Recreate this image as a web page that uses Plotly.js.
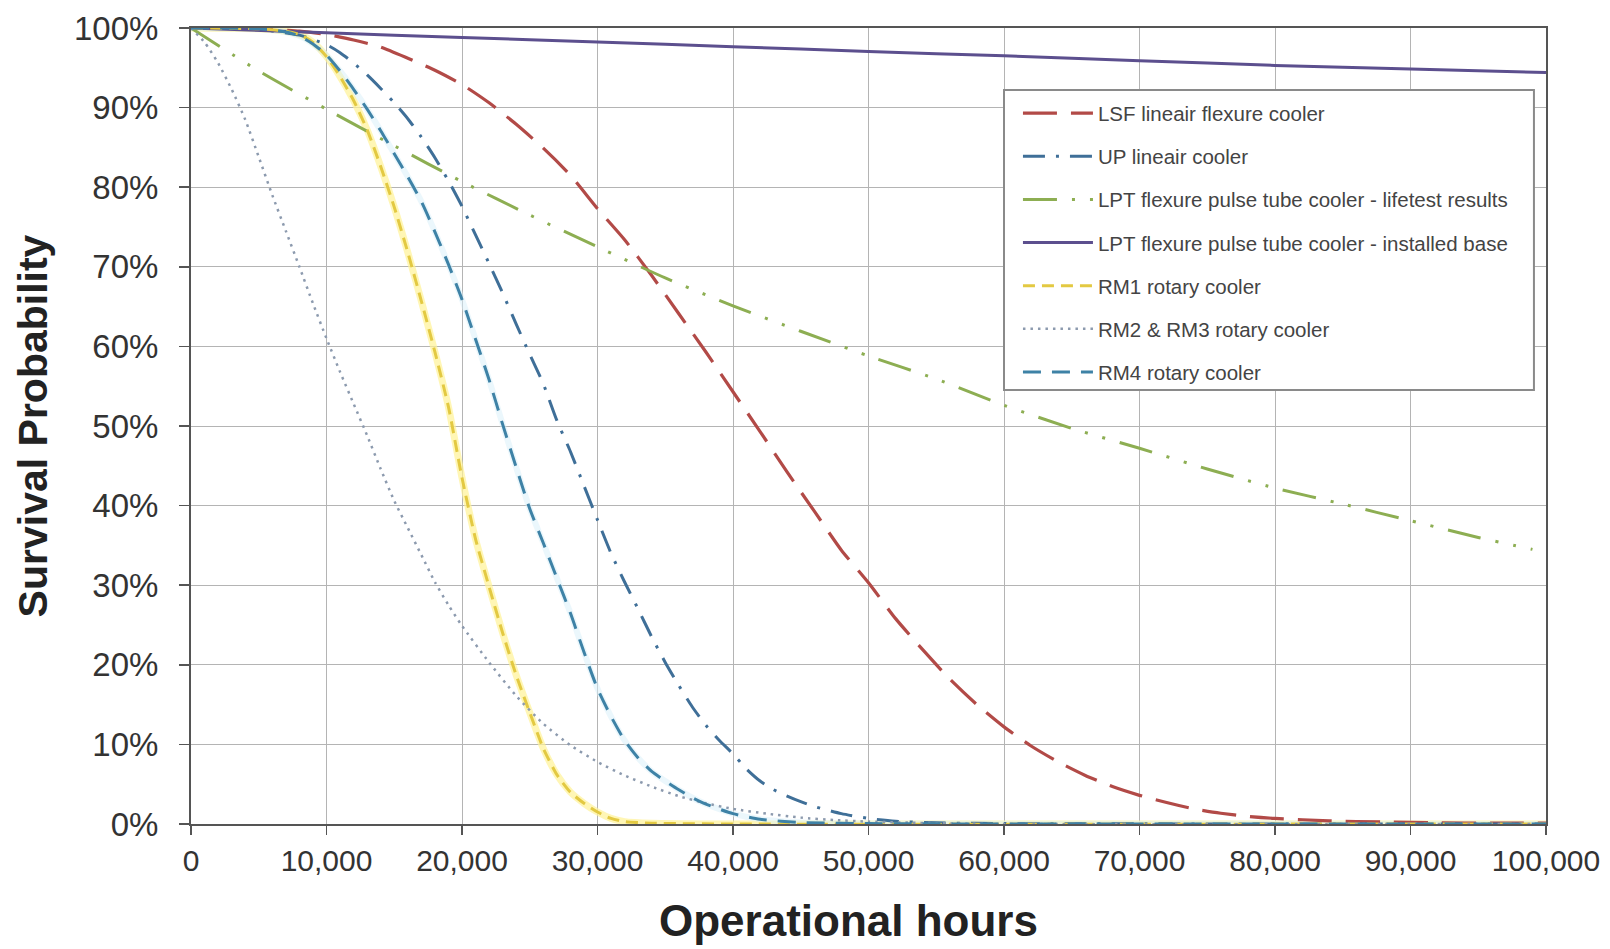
<!DOCTYPE html>
<html>
<head>
<meta charset="utf-8">
<script src="https://cdn.plot.ly/plotly-3.0.1.min.js"></script>
<style>
  html, body { margin: 0; padding: 0; background: #ffffff; }
  #chart { width: 1610px; height: 949px; }
</style>
</head>
<body>
<div id="chart"></div>
<script>
// ---------- data ----------
const seriesNames = [
  "LSF lineair flexure cooler",
  "UP lineair cooler",
  "LPT flexure pulse tube cooler - lifetest results",
  "LPT flexure pulse tube cooler - installed base",
  "RM1 rotary cooler",
  "RM2 & RM3 rotary cooler",
  "RM4 rotary cooler"
];

const xAxisTitle = "Operational hours";
const yAxisTitle = "Survival Probability";

const xTickVals = [0, 10000, 20000, 30000, 40000, 50000, 60000, 70000, 80000, 90000, 100000];
const yTickVals = [0, 10, 20, 30, 40, 50, 60, 70, 80, 90, 100];
const yTickText = ["0%", "10%", "20%", "30%", "40%", "50%", "60%", "70%", "80%", "90%", "100%"];

const lsfHours = [0,5000,8000,10000,12000,14000,16000,18000,20000,22000,24000,26000,28000,30000,32000,34000,36000,38000,40000,42000,44000,46000,48000,50000,52000,54000,56000,58000,60000,62000,64000,66000,68000,70000,72000,74000,76000,78000,80000,84000,88000,92000,96000,100000];
const lsfSurv  = [100,99.9,99.6,99.2,98.5,97.6,96.2,94.7,92.9,90.6,87.9,84.9,81.5,77.3,73.4,68.9,64.1,59.3,54.3,49.3,44.2,39.3,34.4,30.3,25.8,21.9,18.2,15.0,12.2,9.8,7.8,6.1,4.7,3.6,2.7,1.9,1.35,0.95,0.7,0.4,0.25,0.15,0.1,0.1];

const upHours = [0,5000,8000,10000,11000,12000,13000,14000,15000,16000,17000,18000,19000,20000,21000,22000,23000,24000,25000,26000,27000,28000,29000,30000,31000,32000,33000,34000,35000,36000,37000,38000,39000,40000,41000,42000,43000,44000,45000,46000,48000,50000,52000,55000,60000,100000];
const upSurv  = [100,99.8,99.1,97.9,96.9,95.6,94.1,92.4,90.6,88.6,86.3,83.7,80.8,77.6,74.0,70.4,66.7,62.8,59.0,55.3,50.7,46.8,42.5,38.2,34.0,30.4,27.0,23.5,20.3,17.4,14.7,12.4,10.5,8.8,6.9,5.4,4.3,3.5,2.8,2.2,1.3,0.7,0.35,0.15,0.05,0];

const lptTestHours = [0,5000,10000,15000,20000,25000,30000,35000,40000,45000,50000,55000,60000,65000,70000,75000,80000,85000,90000,95000,99000];
const lptTestSurv  = [100,94.6,89.8,85.2,80.7,76.5,72.5,68.6,65.1,61.9,58.8,55.9,52.6,49.7,47.2,44.6,42.2,40.2,38.1,36.0,34.5];

const lptBaseHours = [0,10000,20000,30000,40000,50000,60000,70000,80000,90000,100000];
const lptBaseSurv  = [100,99.4,98.8,98.25,97.65,97.05,96.5,95.9,95.3,94.85,94.4];

const rm1Hours = [0,5000,7000,8000,9000,10000,11000,12000,13000,14000,15000,16000,17000,18000,19000,20000,21000,22000,23000,24000,25000,26000,27000,28000,29000,30000,31000,32000,34000,40000,100000];
const rm1Surv  = [100,99.9,99.6,99.2,98.2,96.4,93.9,90.9,87.2,82.6,77.5,71.8,65.7,59.3,52.4,43.5,35.8,29.8,24.0,18.7,14.0,9.5,6.2,4.0,2.6,1.5,0.7,0.3,0.1,0,0];

const rm23Hours = [0,1000,2000,3000,4000,5000,6000,7000,8000,9000,10000,11000,12000,13000,14000,15000,16000,17000,18000,19000,20000,22000,24000,26000,28000,30000,32000,34000,36000,38000,40000,42500,45000,47500,50000,55000,60000,100000];
const rm23Surv  = [100,98.2,95.6,92.3,88.5,83.8,79.0,74.5,70.0,65.4,61.0,56.8,52.8,48.8,44.6,40.6,37.2,33.8,30.4,27.5,24.9,20.3,16.1,12.6,9.9,7.8,6.1,4.7,3.5,2.6,1.9,1.3,0.8,0.5,0.3,0.1,0,0];

const rm4Hours = [0,5000,7000,8000,9000,10000,11000,12000,13000,14000,15000,16000,17000,18000,19000,20000,21000,22000,23000,24000,25000,26000,27000,28000,29000,30000,31000,32000,33000,34000,35000,36000,37000,38000,40000,42000,45000,50000,100000];
const rm4Surv  = [100,99.9,99.5,99.0,98.0,96.6,94.6,92.3,89.8,87.1,84.2,81.3,78.2,74.4,70.3,65.9,60.9,55.8,50.2,44.8,39.6,35.3,30.9,26.5,21.6,17.0,13.5,10.5,8.3,6.6,5.4,4.3,3.3,2.5,1.3,0.6,0.2,0.05,0];

// ---------- traces ----------
function line(x, y, name, color, width, dash, group, showlegend) {
  return {
    type: "scatter", mode: "lines", x: x, y: y, name: name,
    legendgroup: group, showlegend: showlegend,
    line: { color: color, width: width, dash: dash, shape: "spline", smoothing: 0.6 },
    hoverinfo: "skip", cliponaxis: true
  };
}

const traces = [
  // soft halos under the two rotary curves
  line(rm1Hours, rm1Surv, seriesNames[4], "rgba(255,242,150,0.7)", 7, "solid", "g5", false),
  line(rm4Hours, rm4Surv, seriesNames[6], "rgba(215,240,250,0.5)", 6, "solid", "g7", false),

  line(lsfHours, lsfSurv, seriesNames[0], "#B24A47", 3.2, "34px,14px", "g1", true),
  line(upHours, upSurv, seriesNames[1], "#3F6F98", 3, "22px,11px,3px,11px", "g2", true),
  line(lptTestHours, lptTestSurv, seriesNames[2], "#8DAE52", 3, "34px,15px,3px,15px,3px,15px", "g3", true),
  line(lptBaseHours, lptBaseSurv, seriesNames[3], "#5C4F8E", 3, "solid", "g4", true),
  line(rm1Hours, rm1Surv, seriesNames[4], "#E3C942", 3, "12px,7px", "g5", true),
  line(rm23Hours, rm23Surv, seriesNames[5], "#8C9AAE", 2.5, "2.5px,5px", "g6", true),
  line(rm4Hours, rm4Surv, seriesNames[6], "#3E82A6", 3, "18px,11px", "g7", true)
];

// ---------- layout ----------
const layout = {
  width: 1610, height: 949,
  margin: { l: 191, r: 64, t: 28, b: 125 },
  paper_bgcolor: "#ffffff",
  plot_bgcolor: "#ffffff",
  font: { family: "Liberation Sans, Arial, sans-serif", color: "#333333" },
  showlegend: true,
  shapes: [{
    type: "rect", xref: "paper", yref: "paper",
    x0: 0.6, x1: 0.9911, y0: 0.5452, y1: 0.9221,
    fillcolor: "#ffffff", line: { color: "#8a8a8a", width: 2 }, layer: "above"
  }],
  annotations: [{
    xref: "paper", yref: "paper", x: 0.4855, y: -0.121,
    xanchor: "center", yanchor: "middle", showarrow: false,
    text: "<b>" + xAxisTitle + "</b>",
    font: { size: 44, family: "Liberation Sans, Arial, sans-serif", color: "#222222" }
  }],
  legend: {
    x: 0.6103, xanchor: "left",
    y: 0.918, yanchor: "top",
    bgcolor: "rgba(255,255,255,0)",
    borderwidth: 0,
    font: { size: 20.5, color: "#444444", family: "Liberation Sans, Arial, sans-serif" },
    tracegroupgap: 13.5,
    itemwidth: 70,
    traceorder: "grouped"
  },
  xaxis: {
    range: [0, 100000],
    tickvals: xTickVals,
    tickformat: ",",
    tickfont: { size: 30, color: "#333333" },
    ticks: "outside", ticklen: 9, tickcolor: "#555555", tickwidth: 1.5,
    showgrid: true, gridcolor: "#b4b4b4", gridwidth: 1,
    showline: true, linecolor: "#555555", linewidth: 2, mirror: true,
    zeroline: false,
    automargin: false
  },
  yaxis: {
    range: [0, 100],
    tickvals: yTickVals,
    ticktext: yTickText,
    tickfont: { size: 33, color: "#333333" },
    ticks: "outside", ticklen: 10, tickcolor: "#555555", tickwidth: 1.5,
    ticklabelstandoff: 14,
    showgrid: true, gridcolor: "#b4b4b4", gridwidth: 1,
    showline: true, linecolor: "#555555", linewidth: 2, mirror: true,
    zeroline: false,
    title: { text: yAxisTitle, font: { size: 41, family: "Liberation Sans, Arial, sans-serif", color: "#222222", weight: "bold" }, standoff: 14 },
    automargin: false
  }
};

Plotly.newPlot("chart", traces, layout, { staticPlot: true, displayModeBar: false });
</script>
</body>
</html>
